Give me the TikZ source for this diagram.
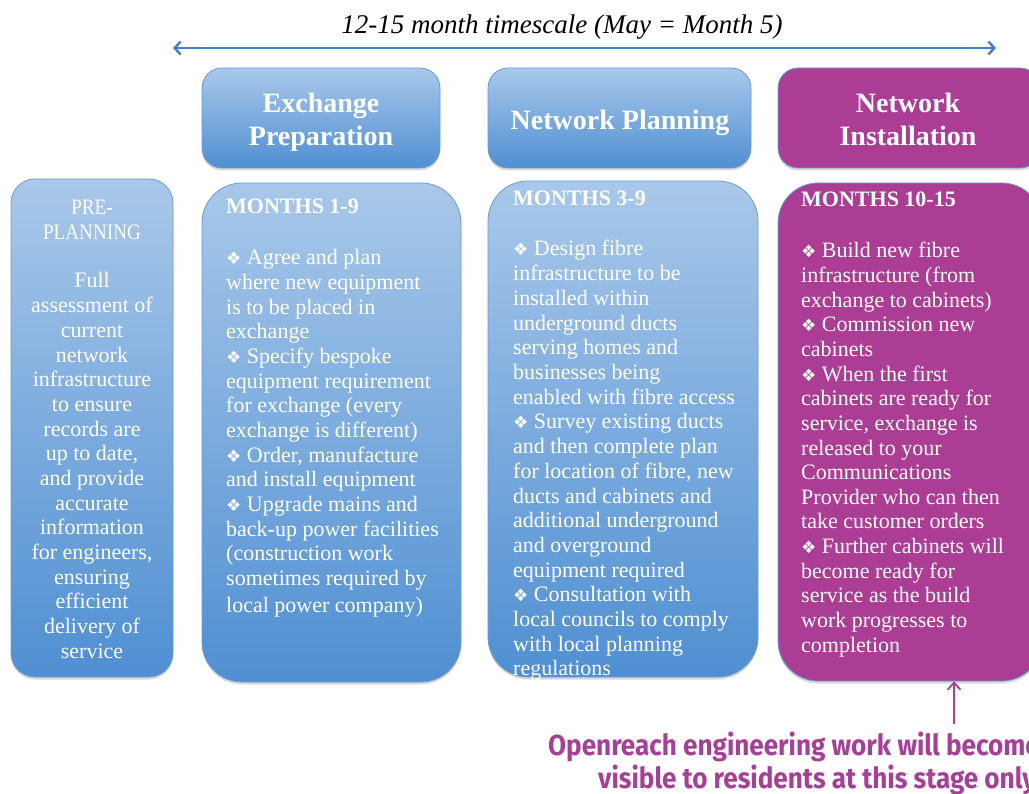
\documentclass[tikz,border=0pt]{standalone}
\usepackage{graphicx}
\usepackage{fontspec}
\setmainfont{Liberation Serif}
\newfontfamily\symfont{DejaVu Sans}
\newfontfamily\bottomfont[FakeStretch=0.9]{Fira Sans}
\usetikzlibrary{arrows.meta,shadows}

\definecolor{bluetop}{HTML}{A9C8EA}
\definecolor{bluebot}{HTML}{4F8FD2}
\definecolor{boxedge}{HTML}{6C9BD2}
\definecolor{purp}{HTML}{AB3D94}
\definecolor{arrowblue}{HTML}{4A7EC0}
\definecolor{purptext}{HTML}{A63F95}

\newcommand\bul{{\symfont\fontsize{17}{17}\selectfont ❖}\ }

\tikzset{
  boxshadow/.style={drop shadow={shadow xshift=0pt, shadow yshift=-2.5pt, opacity=0.3}},
  bluebox/.style={draw=boxedge, line width=0.8pt, top color=bluetop, bottom color=bluebot,
    inner sep=0pt, boxshadow},
  purpbox/.style={draw=boxedge, line width=0.8pt, fill=purp, inner sep=0pt, boxshadow},
  headtext/.style={text=white, font=\bfseries\fontsize{28}{30}\selectfont, inner sep=0pt},
  bodytext/.style={text=white, font=\fontsize{22}{24}\selectfont, inner sep=0pt},
  bodyhead/.style={text=white, font=\bfseries\fontsize{22}{24}\selectfont, inner sep=0pt},
  timearrow/.style={draw=arrowblue, line width=2.4pt,
    arrows={Straight Barb[length=6pt,width=13pt]-Straight Barb[length=6pt,width=13pt]}},
  notearrow/.style={draw=purptext, line width=1.8pt, -{Straight Barb[length=7pt,width=13pt]}},
  notetext/.style={text=purptext, font=\bottomfont\bfseries\fontsize{29}{32}\selectfont, inner sep=0pt}
}

\begin{document}
\begin{tikzpicture}[x=1pt,y=-1pt]
\useasboundingbox (0,0) rectangle (1029,794);
\clip (0,0) rectangle (1029,794);

% title and timescale arrow
\node[anchor=base, font=\itshape\fontsize{27}{30}\selectfont, inner sep=0pt] (title) at (562,34) {12-15 month timescale (May = Month 5)};
\coordinate (tl) at (173,48);
\coordinate (tr) at (996,48);
\draw[timearrow] (tl) -- (tr);

% header boxes
\node[bluebox, rounded corners=20pt, minimum width=238pt, minimum height=100pt] (hExch) at (321,118) {};
\node[bluebox, rounded corners=20pt, minimum width=263pt, minimum height=100pt] (hPlan) at (619.5,118) {};
\node[purpbox, rounded corners=20pt, minimum width=262pt, minimum height=100pt] (hInst) at (909,118) {};

\node[headtext, anchor=base] (hExchA) at (321,113) {Exchange};
\node[headtext, anchor=base] (hExchB) at (321,146) {Preparation};
\node[headtext, anchor=base] (hPlanA) at (620,130) {Network Planning};
\node[headtext, anchor=base] (hInstA) at (908,113) {Network};
\node[headtext, anchor=base] (hInstB) at (908,146) {Installation};

% content boxes
\node[bluebox, rounded corners=24pt, minimum width=162pt, minimum height=498pt] (cPre) at (92,428) {};
\node[bluebox, rounded corners=40pt, minimum width=259pt, minimum height=499pt] (cA) at (331.5,432.5) {};
\node[bluebox, rounded corners=40pt, minimum width=270pt, minimum height=496pt] (cB) at (623,429) {};
\node[purpbox, rounded corners=40pt, minimum width=264pt, minimum height=498pt] (cC) at (910,432) {};

% pre-planning text
\node[bodytext, anchor=base] (preA) at (92,215) {\scalebox{0.87}[1]{PRE-}};
\node[bodytext, anchor=base] (preB) at (92,240) {\scalebox{0.87}[1]{PLANNING}};
\foreach \t [count=\i from 0] in {Full,assessment of,current,network,infrastructure,to ensure,records are,{up to date,},and provide,accurate,information,{for engineers,},ensuring,efficient,delivery of,service}
  \node[bodytext, anchor=base] (pre\i) at (92,288+\i*24.67) {\t};

% months 1-9
\node[bodyhead, anchor=base west] (aHead) at (226,214) {MONTHS 1-9};
\foreach \t [count=\i from 0] in {\bul Agree and plan,where new equipment,is to be placed in,exchange,\bul Specify bespoke,equipment requirement,{for exchange (every},{exchange is different)},{\bul Order, manufacture},and install equipment,\bul Upgrade mains and,back-up power facilities,{(construction work},sometimes required by}
  \node[bodytext, anchor=base west] (a\i) at (226,265+\i*24.65) {\t};
\node[bodytext, anchor=base west] (aLast) at (226,612) {local power company)};

% months 3-9
\node[bodyhead, anchor=base west] (bHead) at (513,206) {MONTHS 3-9};
\foreach \t [count=\i from 0] in {\bul Design fibre,infrastructure to be,installed within,underground ducts,serving homes and,businesses being,enabled with fibre access,\bul Survey existing ducts,and then complete plan,{for location of fibre, new},ducts and cabinets and,additional underground,and overground,equipment required,\bul Consultation with,local councils to comply,with local planning,regulations}
  \node[bodytext, anchor=base west] (b\i) at (513,256+\i*24.7) {\t};

% months 10-15
\node[bodyhead, anchor=base west] (cHead) at (801,207) {MONTHS 10-15};
\foreach \t [count=\i from 0] in {\bul Build new fibre,{infrastructure (from},{exchange to cabinets)},\bul Commission new,cabinets,\bul When the first,cabinets are ready for,{service, exchange is},released to your,Communications,Provider who can then,take customer orders,\bul Further cabinets will,become ready for,service as the build,work progresses to,completion}
  \node[bodytext, anchor=base west] (c\i) at (801,258+\i*24.63) {\t};

% note
\coordinate (nb) at (954,724);
\draw[notearrow] (nb) -- (nb |- cC.south);
\node[notetext, anchor=base west] (noteA) at (548,755) {Openreach engineering work will become};
\node[notetext, anchor=base west] (noteB) at (598,788) {visible to residents at this stage only};
\end{tikzpicture}
\end{document}
